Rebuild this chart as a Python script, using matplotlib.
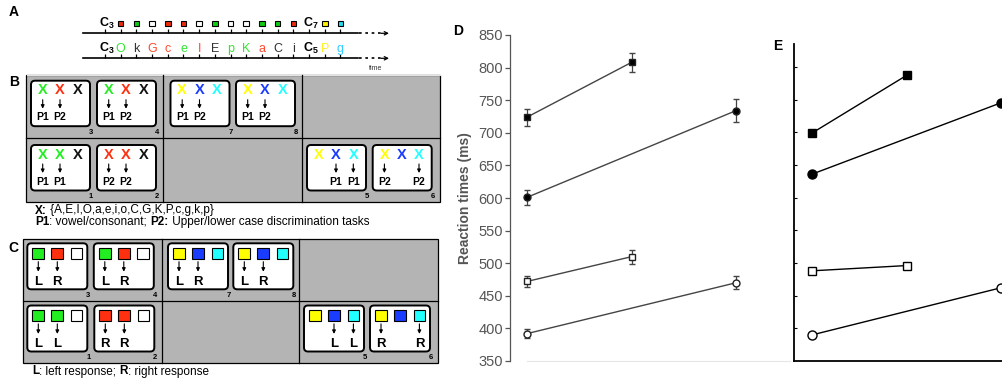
import matplotlib.pyplot as plt
import numpy as np
from matplotlib.patches import FancyBboxPatch, Rectangle

plt.rcParams['font.family'] = ['Liberation Sans', 'DejaVu Sans']
plt.rcParams['mathtext.fontset'] = 'custom'
plt.rcParams['mathtext.rm'] = 'Liberation Sans'
plt.rcParams['mathtext.bf'] = 'Liberation Sans:bold'

W, H = 1002, 381

# ---- data for D (observed RTs) and E (model) ----
x_square = [1, 2]
x_circle = [1, 3]
rt_filled_square = [724, 808]
rt_filled_square_err = [13, 15]
rt_filled_circle = [601, 734]
rt_filled_circle_err = [12, 18]
rt_open_square = [472, 510]
rt_open_square_err = [8, 11]
rt_open_circle = [392, 470]
rt_open_circle_err = [7, 10]

model_filled_square = [699, 787]
model_filled_circle = [636, 745]
model_open_square = [488, 496]
model_open_circle = [390, 462]

d_ticks = np.arange(350, 851, 50)
e_ticks = np.arange(400, 801, 50)

# ---- panel A sequences ----
seq_top = ['C3', 'r', 'g', 'w', 'r', 'r', 'w', 'g', 'w', 'w', 'g', 'g', 'r', 'C7', 'y', 'c']
seq_letters = ['C3', 'O', 'k', 'G', 'c', 'e', 'I', 'E', 'p', 'K', 'a', 'C', 'i', 'C5', 'P', 'g']
seq_letter_cols = ['k', 'g', 'k', 'r', 'r', 'g', 'r', 'k', 'g', 'g', 'r', 'k', 'k', 'k', 'y', 'c']

sq_colors = {'r': '#ee2a0a', 'g': '#11cc11', 'w': 'white', 'y': '#ffee00', 'c': '#22ddee',
             'k': '#111111', 'b': '#1a3cff'}
txt_colors = {'r': '#ff4a30', 'g': '#33e633', 'k': '#333333', 'y': '#ffee22', 'c': '#33ccff'}
box_colors = {'r': '#ff3010', 'g': '#22ee22', 'k': '#111111', 'y': '#ffff00', 'b': '#1a3cff',
              'c': '#22ffff', 'w': 'white'}

# ---- panel B / C block contents ----
blk_numbers = [3, 4, 7, 8, 1, 2, 5, 6]
b_items = [['g', 'r', 'k'], ['g', 'r', 'k'], ['y', 'b', 'c'], ['y', 'b', 'c'],
           ['g', 'g', 'k'], ['r', 'r', 'k'], ['y', 'b', 'c'], ['y', 'b', 'c']]
b_targets = [[0, 1], [0, 1], [0, 1], [0, 1], [0, 1], [0, 1], [1, 2], [0, 2]]
b_labels = [['P1', 'P2'], ['P1', 'P2'], ['P1', 'P2'], ['P1', 'P2'],
            ['P1', 'P1'], ['P2', 'P2'], ['P1', 'P1'], ['P2', 'P2']]
c_items = [['g', 'r', 'w'], ['g', 'r', 'w'], ['y', 'b', 'c'], ['y', 'b', 'c'],
           ['g', 'g', 'w'], ['r', 'r', 'w'], ['y', 'b', 'c'], ['y', 'b', 'c']]
c_labels = [['L', 'R'], ['L', 'R'], ['L', 'R'], ['L', 'R'],
            ['L', 'L'], ['R', 'R'], ['L', 'L'], ['R', 'R']]

fig = plt.figure(figsize=(W / 100, H / 100), dpi=100)
ax0 = fig.add_axes([0, 0, 1, 1])
ax0.set_xlim(0, W)
ax0.set_ylim(H, 0)
ax0.axis('off')


def px_axes(left, top, right, bottom):
    return fig.add_axes([left / W, 1 - bottom / H, (right - left) / W, (bottom - top) / H])


def down_arrow(x, y0, y1, lw=0.8):
    ax0.annotate('', xy=(x, y1), xytext=(x, y0),
                 arrowprops=dict(arrowstyle='-|>', lw=lw, color='k', shrinkA=0, shrinkB=0,
                                 mutation_scale=5))


def rich_text(x, y, parts, size=8.5):
    prev = None
    for s, w in parts:
        if prev is None:
            prev = ax0.text(x, y, s, fontsize=size, fontweight=w, va='baseline', ha='left')
        else:
            prev = ax0.annotate(s, xy=(1, 0), xycoords=prev, fontsize=size, fontweight=w,
                                va='bottom', ha='left')


# panel letters
for lab, (lx, ly) in zip('ABCDE', [(14, 12), (14, 82), (13, 248), (458, 31), (778, 46)]):
    ax0.text(lx, ly, lab, fontsize=10, fontweight='bold', ha='center', va='center')

# ---- panel A ----
xs = 105 + 15.7 * np.arange(16)
for yl in (33.3, 58.3):
    ax0.plot([83, 358], [yl, yl], color='k', lw=1.2)
    ax0.plot([359, 382], [yl, yl], color='k', lw=1.2, ls=(0, (1.6, 2.2)))
    ax0.annotate('', xy=(389, yl), xytext=(381, yl),
                 arrowprops=dict(arrowstyle='->', lw=0.9, shrinkA=0, shrinkB=0, mutation_scale=6))
    ax0.vlines(xs, yl - 4, yl, color='k', lw=0.9)
ax0.text(376, 68.5, 'time', fontsize=5, ha='center', va='center', color='#333')
ax0.plot([27, 440], [74.5, 74.5], color='#e4e4e4', lw=0.8)

for x, item in zip(xs, seq_top):
    if item.startswith('C'):
        ax0.text(x + 1.5, 27, r'$\mathbf{C}_{\mathbf{%s}}$' % item[1], fontsize=9,
                 ha='center', va='baseline')
    else:
        ax0.add_patch(Rectangle((x - 2.8, 23.3 - 2.8), 5.6, 5.6, fc=sq_colors[item], ec='k', lw=0.8))

for x, item, col in zip(xs, seq_letters, seq_letter_cols):
    if item.startswith('C') and len(item) == 2:
        ax0.text(x + 1.5, 52, r'$\mathbf{C}_{\mathbf{%s}}$' % item[1], fontsize=9,
                 ha='center', va='baseline')
    else:
        ax0.text(x, 52, item, fontsize=9, color=txt_colors[col], ha='center', va='baseline')


# ---- grey block frames ----
def grey_frame(x0, y0, x1, y1, ymid, xv):
    ax0.add_patch(Rectangle((x0, y0), x1 - x0, y1 - y0, fc='#b4b4b4', ec='k', lw=0.9))
    ax0.plot([x0, x1], [ymid, ymid], color='k', lw=0.9)
    for v in xv:
        ax0.plot([v, v], [y0, y1], color='k', lw=0.9)


def rbox(x, y, w, h):
    ax0.add_patch(FancyBboxPatch((x, y), w, h, boxstyle='round,pad=0,rounding_size=4',
                                 fc='white', ec='k', lw=1.4))


# ---- panel B ----
grey_frame(26, 75, 440, 202, 138, [163, 302])
b_left = [31, 97, 170.5, 236, 31, 97, 307, 372.7]
b_top = [80.7] * 4 + [145] * 4
bw, bh = 59, 45.5
for n, bl, bt, items, tg, labs in zip(blk_numbers, b_left, b_top, b_items, b_targets, b_labels):
    rbox(bl, bt, bw, bh)
    cx = [bl + 11.7, bl + 29, bl + 46.3]
    for k, c in enumerate(items):
        ax0.text(cx[k], bt + 9.8, 'X', fontsize=10.5, fontweight='bold', color=box_colors[c],
                 ha='center', va='center')
    for k, lab in zip(tg, labs):
        down_arrow(cx[k], bt + 19, bt + 28)
        ax0.text(cx[k], bt + 36.8, lab, fontsize=7.5, fontweight='bold', ha='center', va='center')
    ax0.text(bl + bw + 1, bt + bh + 6, str(n), fontsize=5.5, fontweight='bold',
             ha='center', va='center')

rich_text(35, 213.5, [('X:', 'bold'), (' {A,E,I,O,a,e,i,o,C,G,K,P,c,g,k,p}', 'normal')])
rich_text(35, 225, [('P1', 'bold'), (': vowel/consonant; ', 'normal'), ('P2:', 'bold'),
                    (' Upper/lower case discrimination tasks', 'normal')])

# ---- panel C ----
grey_frame(22.7, 239, 438.3, 363.3, 301, [161.7, 299.3])
c_left = [27.3, 93.8, 168, 233.3, 27.3, 94.3, 304, 370]
c_top = [243.3] * 4 + [305.5] * 4
cw, ch = 60, 46
for n, bl, bt, items, tg, labs in zip(blk_numbers, c_left, c_top, c_items, b_targets, c_labels):
    rbox(bl, bt, cw, ch)
    cx = [bl + 11, bl + 30, bl + 49.4]
    for k, c in enumerate(items):
        ax0.add_patch(Rectangle((cx[k] - 5.8, bt + 4.2), 11.6, 11.6, fc=box_colors[c], ec='k', lw=0.8))
    for k, lab in zip(tg, labs):
        down_arrow(cx[k], bt + 18.4, bt + 28.4)
        ax0.text(cx[k], bt + 38.5, lab, fontsize=9.5, fontweight='bold', ha='center', va='center')
    ax0.text(bl + cw + 1, bt + ch + 6, str(n), fontsize=5.5, fontweight='bold',
             ha='center', va='center')

rich_text(32, 374.5, [('L', 'bold'), (': left response; ', 'normal'), ('R', 'bold'),
                      (': right response', 'normal')])

# ---- panel D ----
axd = px_axes(510, 35, 790, 361)
d_specs = [
    (x_square, rt_filled_square, rt_filled_square_err, 's', 'k', 4.5),
    (x_circle, rt_filled_circle, rt_filled_circle_err, 'o', 'k', 5),
    (x_square, rt_open_square, rt_open_square_err, 's', 'white', 4.5),
    (x_circle, rt_open_circle, rt_open_circle_err, 'o', 'white', 5),
]
for xv, yv, ev, mk, fc, ms in d_specs:
    axd.errorbar(xv, yv, yerr=ev, fmt='-', marker=mk, color='#444444', mfc=fc, mec='#222222',
                 mew=1, ms=ms, lw=1, elinewidth=0.9, capsize=2.3, capthick=0.9)
axd.set_xlim(0.837, 3.517)
axd.set_ylim(350, 850)
axd.set_yticks(d_ticks)
axd.set_xticks([])
for s in ('top', 'right'):
    axd.spines[s].set_visible(False)
axd.spines['left'].set_color('#555555')
axd.spines['left'].set_linewidth(0.9)
axd.spines['bottom'].set_color('#e6e6e6')
axd.spines['bottom'].set_linewidth(0.8)
axd.spines['bottom'].set_bounds(1, 3.517)
axd.tick_params(axis='y', direction='out', length=3.5, width=0.9, color='#555555',
                labelcolor='#555555', labelsize=10.5, pad=1.5)
axd.set_ylabel('Reaction times (ms)', fontsize=10, fontweight='bold', color='#555555')
axd.yaxis.set_label_coords(-0.136, 0.5)
axd.patch.set_alpha(0)

# ---- panel E ----
axe = px_axes(794, 44, 1012, 361)
e_specs = [
    (x_square, model_filled_square, 's', 'k', 5.5),
    (x_circle, model_filled_circle, 'o', 'k', 6.5),
    (x_square, model_open_square, 's', 'white', 5.5),
    (x_circle, model_open_circle, 'o', 'white', 6.5),
]
for xv, yv, mk, fc, ms in e_specs:
    axe.plot(xv, yv, '-', marker=mk, color='k', mfc=fc, mec='k', mew=1, ms=ms, lw=1)
axe.set_xlim(0.806, 3.118)
axe.set_ylim(350, 835)
axe.set_yticks(e_ticks)
axe.set_yticklabels([])
axe.set_xticks([])
for s in ('top', 'right'):
    axe.spines[s].set_visible(False)
for s in ('left', 'bottom'):
    axe.spines[s].set_linewidth(1.3)
axe.tick_params(axis='y', direction='in', length=2.5, width=0.8)
axe.patch.set_alpha(0)

fig.savefig('out.png', dpi=100)
